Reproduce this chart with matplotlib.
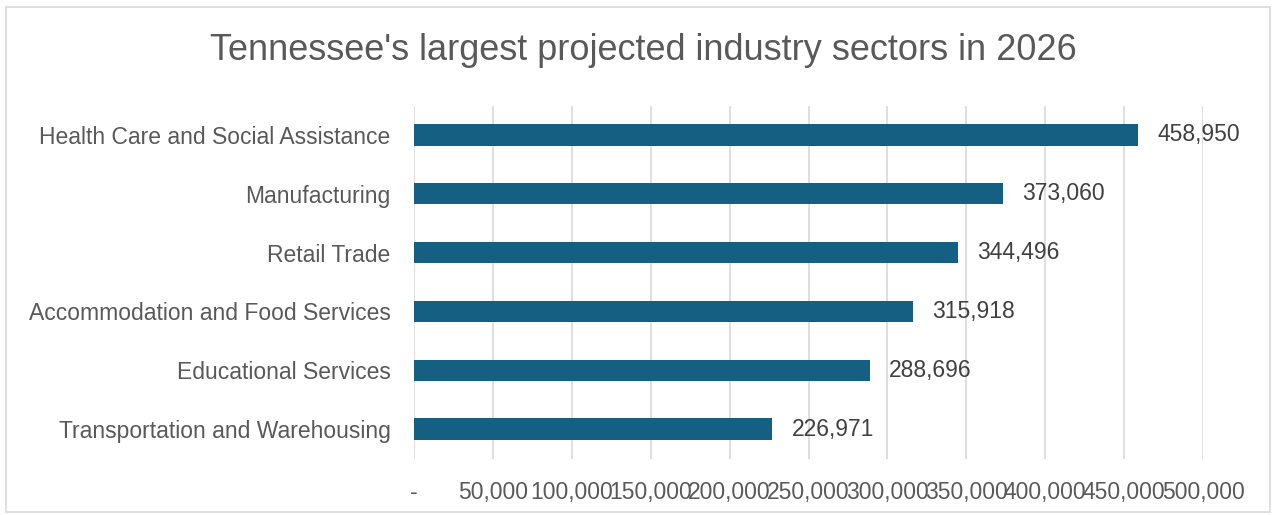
import matplotlib.pyplot as plt
import matplotlib.patches as patches

plt.rcParams['font.family'] = ['Liberation Sans', 'DejaVu Sans']

# data
sectors = ["Health Care and Social Assistance", "Manufacturing", "Retail Trade",
           "Accommodation and Food Services", "Educational Services",
           "Transportation and Warehousing"]
jobs = [458950, 373060, 344496, 315918, 288696, 226971]
ticks = [0, 50000, 100000, 150000, 200000, 250000, 300000, 350000, 400000, 450000, 500000]
tick_labels = ["-"] + [f"{t:,}" for t in ticks[1:]]

W, H = 1276, 515
fig = plt.figure(figsize=(W / 100, H / 100), dpi=100)

# chart border
fig.patches.append(patches.Rectangle((6 / W, 3 / H), 1264 / W, 505 / H, transform=fig.transFigure,
                                     fill=False, edgecolor='#d9d9d9', linewidth=1.2))

ax = fig.add_axes([414 / W, (H - 458.5) / H, (1203 - 414) / W, 353 / H])

y = list(range(len(sectors)))
ax.barh(y, jobs, height=0.36, color='#156082', zorder=3)
ax.set_ylim(len(sectors) - 0.5, -0.5)
ax.set_xlim(0, 500000)

for yi, v in zip(y, jobs):
    ax.text(v + 12500, yi, f"{v:,}", va='center', ha='left', fontsize=16.5, color='#404040')

ax.set_yticks(y)
ax.set_yticklabels(sectors, fontsize=16.5, color='#595959')
ax.set_xticks(ticks)
ax.set_xticklabels(tick_labels, fontsize=16.5, color='#595959')
ax.tick_params(axis='y', length=0, pad=17)
ax.tick_params(axis='x', length=0, pad=16)

ax.grid(axis='x', color='#d9d9d9', linewidth=1.2, zorder=0)
for s in ax.spines.values():
    s.set_visible(False)

fig.text(643 / W, 1 - 51 / H, "Tennessee's largest projected industry sectors in 2026",
         ha='center', va='center', fontsize=26, color='#595959')

fig.savefig('out.png', dpi=100)
